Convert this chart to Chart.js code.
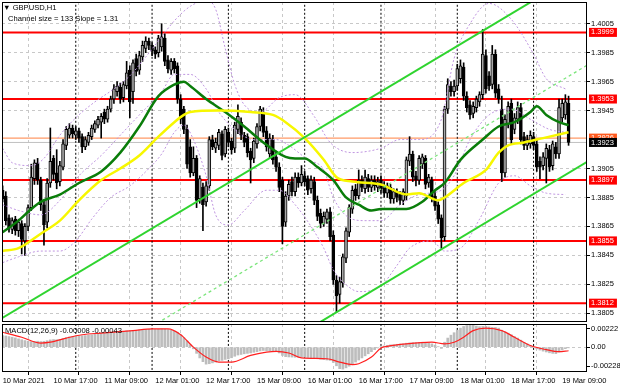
<!DOCTYPE html>
<html><head><meta charset="utf-8">
<script src="https://cdn.jsdelivr.net/npm/chart.js@4.4.1/dist/chart.umd.min.js"></script>
<style>
html,body{margin:0;padding:0;background:#fff;width:620px;height:388px;overflow:hidden;position:relative}
canvas{position:absolute;left:0}
#main{top:0;width:620px;height:323px}
#macd{top:323px;width:620px;height:65px}
.lbl{position:absolute;font-family:'Liberation Sans',Arial,sans-serif;font-size:7.6px;color:#000;white-space:nowrap;line-height:1}
</style></head><body>
<canvas id="main" width="620" height="323"></canvas>
<canvas id="macd" width="620" height="65"></canvas>
<div class="lbl" style="left:3px;top:4px">&#9660; GBPUSD,H1</div>
<div class="lbl" style="left:8px;top:15px">Channel size = 133 Slope = 1.31</div>
<div class="lbl" style="left:5px;top:327px">MACD(12,26,9) -0.00008 -0.00043</div>
<script>
// ---------- DATA ----------
const timeIdx = [0,16,32,48,64,80,96,112,128,144,160,176];
const timeLabels = ["10 Mar 2021","10 Mar 17:00","11 Mar 09:00","12 Mar 01:00","12 Mar 17:00","15 Mar 09:00","16 Mar 01:00","16 Mar 17:00","17 Mar 09:00","18 Mar 01:00","18 Mar 17:00","19 Mar 09:00"];
const daySeps = [23,47,71,95,119,143,167];

const opens = [
1.3890,1.3886,1.3871,1.3863,1.3870,1.3862,1.3867,1.3855,1.3865,1.3878,
1.3898,1.3909,1.3897,1.3880,1.3868,1.3895,1.3912,1.3902,1.3896,1.3906,
1.3921,1.3928,1.3933,1.3928,1.3931,1.3927,1.3920,1.3923,1.3927,1.3932,
1.3935,1.3937,1.3944,1.3939,1.3946,1.3953,1.3958,1.3961,1.3954,1.3962,
1.3973,1.3958,1.3981,1.3973,1.3982,1.3988,1.3993,1.3990,1.3987,1.3985,
1.3989,1.3995,1.3980,1.3973,1.3979,1.3976,1.3953,1.3946,1.3932,1.3920,
1.3902,1.3912,1.3884,1.3892,1.3882,1.3893,1.3925,1.3919,1.3921,1.3929,
1.3915,1.3930,1.3924,1.3919,1.3932,1.3937,1.3928,1.3927,1.3917,1.3912,
1.3922,1.3934,1.3944,1.3931,1.3915,1.3925,1.3913,1.3906,1.3897,1.3868,
1.3886,1.3896,1.3889,1.3899,1.3895,1.3900,1.3898,1.3891,1.3896,1.3883,
1.3874,1.3867,1.3870,1.3875,1.3859,1.3828,1.3818,1.3826,1.3843,1.3861,
1.3877,1.3891,1.3886,1.3897,1.3891,1.3898,1.3892,1.3897,1.3892,1.3897,
1.3893,1.3888,1.3892,1.3884,1.3889,1.3887,1.3883,1.3886,1.3910,1.3915,
1.3900,1.3897,1.3908,1.3912,1.3895,1.3897,1.3886,1.3880,1.3871,1.3858,
1.3946,1.3962,1.3958,1.3962,1.3967,1.3975,1.3955,1.3949,1.3943,1.3947,
1.3951,1.3956,1.3983,1.3969,1.3963,1.3984,1.3960,1.3946,1.3902,1.3936,
1.3950,1.3932,1.3939,1.3947,1.3927,1.3921,1.3922,1.3927,1.3922,1.3910,
1.3907,1.3912,1.3918,1.3907,1.3920,1.3915,1.3940,1.3942,1.3950];
const highs = [
1.3893,1.3889,1.3873,1.3871,1.3872,1.3870,1.3869,1.3867,1.3880,1.3908,
1.3911,1.3912,1.3899,1.3883,1.3898,1.3933,1.3914,1.3918,1.3910,1.3925,
1.3934,1.3936,1.3935,1.3934,1.3933,1.3929,1.3927,1.3930,1.3935,1.3938,
1.3941,1.3943,1.3946,1.3948,1.3955,1.3963,1.3965,1.3964,1.3965,1.3979,
1.3976,1.3980,1.3984,1.3986,1.3993,1.3996,1.3995,1.3992,1.3989,1.3997,
1.4005,1.3998,1.3983,1.3981,1.3981,1.3978,1.3956,1.3948,1.3935,1.3925,
1.3920,1.3914,1.3900,1.3895,1.3896,1.3927,1.3928,1.3926,1.3932,1.3931,
1.3934,1.3933,1.3926,1.3937,1.3949,1.3940,1.3930,1.3929,1.3919,1.3926,
1.3936,1.3948,1.3947,1.3934,1.3929,1.3928,1.3917,1.3909,1.3899,1.3889,
1.3897,1.3899,1.3902,1.3902,1.3907,1.3903,1.3900,1.3900,1.3899,1.3886,
1.3877,1.3875,1.3877,1.3878,1.3862,1.3831,1.3830,1.3846,1.3864,1.3880,
1.3893,1.3894,1.3904,1.3900,1.3904,1.3901,1.3900,1.3900,1.3899,1.3900,
1.3896,1.3895,1.3894,1.3891,1.3891,1.3889,1.3891,1.3913,1.3927,1.3917,
1.3903,1.3914,1.3915,1.3914,1.3901,1.3899,1.3889,1.3882,1.3873,1.3948,
1.3967,1.3965,1.3966,1.3977,1.3980,1.3978,1.3958,1.3952,1.3951,1.3955,
1.3958,1.4001,1.3987,1.3972,1.3990,1.3987,1.3963,1.3955,1.3942,1.3951,
1.3953,1.3943,1.3951,1.3950,1.3930,1.3928,1.3931,1.3930,1.3925,1.3913,
1.3916,1.3922,1.3921,1.3924,1.3923,1.3953,1.3953,1.3956,1.3955];
const lows = [
1.3882,1.3866,1.3861,1.3860,1.3859,1.3858,1.3846,1.3845,1.3862,1.3876,
1.3894,1.3894,1.3876,1.3852,1.3864,1.3892,1.3897,1.3891,1.3893,1.3904,
1.3918,1.3926,1.3926,1.3925,1.3923,1.3916,1.3918,1.3921,1.3925,1.3930,
1.3933,1.3926,1.3936,1.3937,1.3944,1.3950,1.3955,1.3950,1.3951,1.3960,
1.3940,1.3950,1.3969,1.3970,1.3979,1.3985,1.3987,1.3983,1.3981,1.3982,
1.3986,1.3976,1.3971,1.3970,1.3971,1.3950,1.3936,1.3929,1.3905,1.3899,
1.3900,1.3878,1.3881,1.3862,1.3879,1.3890,1.3918,1.3916,1.3918,1.3911,
1.3913,1.3920,1.3915,1.3916,1.3929,1.3925,1.3920,1.3913,1.3895,1.3909,
1.3919,1.3931,1.3927,1.3917,1.3912,1.3908,1.3903,1.3889,1.3853,1.3865,
1.3883,1.3886,1.3886,1.3892,1.3893,1.3893,1.3887,1.3888,1.3880,1.3869,
1.3864,1.3865,1.3867,1.3855,1.3825,1.3806,1.3812,1.3823,1.3840,1.3858,
1.3874,1.3883,1.3884,1.3889,1.3888,1.3889,1.3889,1.3890,1.3889,1.3888,
1.3885,1.3885,1.3881,1.3881,1.3882,1.3880,1.3880,1.3883,1.3907,1.3896,
1.3893,1.3894,1.3905,1.3891,1.3892,1.3882,1.3876,1.3867,1.3850,1.3855,
1.3943,1.3955,1.3955,1.3959,1.3964,1.3952,1.3944,1.3939,1.3940,1.3944,
1.3948,1.3953,1.3957,1.3959,1.3960,1.3954,1.3950,1.3896,1.3899,1.3933,
1.3922,1.3929,1.3936,1.3922,1.3918,1.3918,1.3919,1.3918,1.3903,1.3898,
1.3904,1.3895,1.3903,1.3904,1.3912,1.3912,1.3937,1.3939,1.3921];
const closes = [
1.3884,1.3869,1.3864,1.3869,1.3862,1.3868,1.3856,1.3865,1.3878,1.3899,
1.3909,1.3897,1.3880,1.3866,1.3895,1.3910,1.3901,1.3895,1.3907,1.3922,
1.3932,1.3933,1.3929,1.3931,1.3926,1.3920,1.3925,1.3928,1.3933,1.3936,
1.3939,1.3941,1.3939,1.3946,1.3953,1.3960,1.3962,1.3953,1.3963,1.3971,
1.3951,1.3978,1.3972,1.3983,1.3990,1.3993,1.3990,1.3986,1.3984,1.3995,
1.3996,1.3979,1.3974,1.3979,1.3974,1.3953,1.3939,1.3932,1.3908,1.3902,
1.3912,1.3883,1.3898,1.3880,1.3893,1.3925,1.3920,1.3923,1.3930,1.3914,
1.3932,1.3923,1.3918,1.3935,1.3941,1.3928,1.3923,1.3916,1.3911,1.3924,
1.3934,1.3946,1.3930,1.3920,1.3926,1.3911,1.3906,1.3892,1.3865,1.3886,
1.3894,1.3889,1.3899,1.3895,1.3901,1.3896,1.3890,1.3897,1.3883,1.3872,
1.3867,1.3872,1.3875,1.3858,1.3828,1.3817,1.3827,1.3844,1.3862,1.3878,
1.3890,1.3886,1.3897,1.3892,1.3899,1.3892,1.3897,1.3893,1.3896,1.3891,
1.3888,1.3893,1.3884,1.3889,1.3885,1.3883,1.3889,1.3911,1.3915,1.3899,
1.3897,1.3912,1.3913,1.3894,1.3899,1.3885,1.3879,1.3870,1.3857,1.3946,
1.3963,1.3958,1.3962,1.3974,1.3976,1.3955,1.3947,1.3942,1.3948,1.3953,
1.3956,1.3984,1.3960,1.3962,1.3984,1.3957,1.3953,1.3902,1.3939,1.3948,
1.3925,1.3940,1.3947,1.3925,1.3921,1.3925,1.3928,1.3921,1.3906,1.3906,
1.3913,1.3919,1.3906,1.3922,1.3915,1.3947,1.3950,1.3951,1.3923];

// moving averages
const maGreenIdx = [0,5,9,12,18,24,31,37,43,49,54,57,59,64,70,76,82,89,92,95,99,104,108,112,116,119,127,132,136,139,144,151,156,161,166,168,171,175,178];
const maGreenVal = [1.3861,1.3869,1.3877,1.3882,1.3887,1.3895,1.3903,1.3916,1.3934,1.3955,1.3963,1.3965,1.3962,1.3953,1.3944,1.3934,1.3923,1.3913,1.3912,1.3912,1.3906,1.3897,1.3885,1.3880,1.3876,1.3877,1.3877,1.3882,1.3890,1.3895,1.3911,1.3925,1.3934,1.3937,1.3944,1.3948,1.3942,1.3937,1.3935];
const maYellowIdx = [0,5,12,18,24,31,37,43,49,54,57,59,68,78,85,89,95,101,105,110,119,127,131,137,139,145,152,156,159,164,170,178];
const maYellowVal = [1.3848,1.3850,1.3860,1.3869,1.3883,1.3897,1.3905,1.3914,1.3927,1.3937,1.3942,1.3944,1.3945,1.3944,1.3942,1.3937,1.3926,1.3911,1.3899,1.3896,1.3894,1.3887,1.3888,1.3883,1.3885,1.3895,1.3904,1.3916,1.3921,1.3923,1.3926,1.3930];

// Bollinger bands (purple dotted)
const bbUpIdx = [0,3,9,13,18,23,29,35,40,45,50,54,59,64,67,70,73,76,81,87,92,98,103,110,119,125,131,138,142,147,153,160,167,171,177];
const bbUpVal = [1.3919,1.3909,1.3907,1.3912,1.3928,1.3940,1.3951,1.3960,1.3969,1.3982,1.3996,1.4007,1.4017,1.4021,1.4015,1.3988,1.3963,1.3949,1.3944,1.3954,1.3956,1.3941,1.3923,1.3916,1.3919,1.3925,1.3925,1.3939,1.3981,1.4005,1.4019,1.4008,1.3984,1.3967,1.3960];
const bbMidIdx = [0,5,12,18,24,31,37,43,50,54,59,64,68,73,79,86,90,96,101,104,109,114,119,125,131,138,142,147,153,160,166,172,177];
const bbMidVal = [1.3880,1.3876,1.3873,1.3883,1.3900,1.3914,1.3928,1.3942,1.3958,1.3970,1.3970,1.3960,1.3944,1.3932,1.3925,1.3925,1.3921,1.3911,1.3904,1.3885,1.3871,1.3869,1.3869,1.3880,1.3887,1.3890,1.3900,1.3925,1.3942,1.3946,1.3939,1.3932,1.3930];
const bbLowIdx = [0,5,12,18,23,28,34,40,46,50,54,57,60,64,67,71,76,83,87,92,97,101,104,109,112,119,124,128,135,139,144,150,156,161,166,171,177];
const bbLowVal = [1.3840,1.3844,1.3848,1.3848,1.3855,1.3870,1.3885,1.3893,1.3905,1.3915,1.3930,1.3935,1.3925,1.3900,1.3873,1.3866,1.3876,1.3890,1.3890,1.3880,1.3865,1.3850,1.3835,1.3823,1.3820,1.3824,1.3838,1.3850,1.3855,1.3848,1.3850,1.3870,1.3895,1.3900,1.3893,1.3888,1.3887];

// channel lines
const chanAIdx = [-1,168];   const chanAVal = [1.38006,1.40224];
const chanBIdx = [98,185];   const chanBVal = [1.37965,1.39112];
const chanMIdx = [47,185];   const chanMVal = [1.37960,1.39779];

// horizontal levels
const levels = [1.3999,1.3953,1.3897,1.3855,1.3812];
const askPrice = 1.3926;
const bidPrice = 1.3923;
const priceTicks = [1.4005,1.3985,1.3965,1.3945,1.3905,1.3885,1.3865,1.3845,1.3825,1.3805];

// MACD
const macdHist = [
0.00140,0.00135,0.00128,0.00120,0.00112,0.00100,0.00090,
0.00080,0.00072,0.00068,0.00070,0.00072,0.00068,
0.00070,0.00078,0.00088,0.00092,0.00090,0.00095,0.00105,0.00115,0.00125,0.00130,0.00132,
0.00135,0.00138,0.00140,0.00145,0.00150,0.00155,0.00160,0.00165,0.00168,0.00172,0.00178,0.00185,0.00190,0.00190,0.00192,0.00198,0.00196,0.00200,0.00202,0.00208,0.00212,0.00215,0.00216,0.00215,
0.00214,0.00216,0.00220,0.00218,0.00212,
0.00204,0.00195,0.00180,0.00150,0.00115,0.00075,
0.00030,-0.00020,-0.00075,-0.00130,-0.00175,-0.00205,
-0.00200,-0.00190,-0.00180,-0.00165,
-0.00160,-0.00148,-0.00140,-0.00128,-0.00110,-0.00095,-0.00088,-0.00080,-0.00075,-0.00070,
-0.00062,-0.00055,-0.00045,-0.00040,-0.00042,-0.00045,-0.00048,-0.00055,-0.00070,
-0.00100,-0.00115,-0.00118,-0.00120,-0.00122,-0.00120,-0.00118,-0.00120,-0.00125,-0.00128,-0.00132,-0.00138,-0.00145,
-0.00150,-0.00155,-0.00160,-0.00185,-0.00225,-0.00260,-0.00265,-0.00250,-0.00230,-0.00205,
-0.00180,-0.00155,-0.00130,-0.00105,-0.00080,-0.00055,-0.00030,-0.00010,
0.00005,0.00015,0.00022,0.00028,0.00030,0.00035,0.00038,0.00040,0.00048,0.00052,0.00055,0.00055,0.00058,0.00060,0.00056,0.00050,0.00040,0.00025,0.00005,-0.00015,
0.00060,0.00110,0.00145,0.00175,0.00205,0.00230,0.00250,0.00262,0.00268,0.00265,
0.00255,0.00248,0.00250,0.00252,0.00245,0.00240,0.00238,0.00230,0.00205,
0.00185,0.00170,0.00150,0.00128,0.00110,0.00085,0.00060,0.00040,0.00018,0.00000,
-0.00020,-0.00035,-0.00048,-0.00058,-0.00068,-0.00075,-0.00078,-0.00060,-0.00035,-0.00018,-0.00008];
const sigIdx = [0,6,12,15,20,25,31,41,47,52,56,60,64,68,72,78,83,86,90,94,102,106,110,112,116,119,121,127,135,139,142,145,148,152,157,161,166,171,175,178];
const sigVal = [0.0018,0.0012,0.0005,0.0006,0.0011,0.0015,0.0017,0.0020,0.0022,0.0022,0.0015,0.0000,-0.0012,-0.0018,-0.0018,-0.0010,-0.0006,-0.0005,-0.0007,-0.0013,-0.0014,-0.0018,-0.0021,-0.0020,-0.0012,-0.0001,0.0001,0.0004,0.0006,0.0004,0.0006,0.0012,0.0020,0.0023,0.0020,0.0012,0.0002,-0.0003,-0.00055,-0.00043];
const macdTicks = [0.00222,0,-0.00228];

// ---------- CHART ----------
const FONT = "'Liberation Sans', Arial, sans-serif";
const X_MIN = -0.2, X_MAX = 183.8;
const P_MIN = 1.3799, P_MAX = 1.4020;
const M_MIN = -0.0030, M_MAX = 0.0028;

const pts = (ix, vals) => ix.map((x, i) => ({x, y: vals[i]}));
const hline = (v, color, w, order) => ({type:'line', data:[{x:X_MIN-3,y:v},{x:X_MAX+3,y:v}], borderColor:color, borderWidth:w, pointRadius:0, order});
const vline = (x, lo, hi) => ({type:'line', data:[{x,y:lo},{x,y:hi}], borderColor:'#000', borderWidth:1, borderDash:[2,2], pointRadius:0, order:9});
const curve = (data, color, w, dash, order) => ({type:'line', data, borderColor:color, borderWidth:w, borderDash:dash, pointRadius:0, cubicInterpolationMode:'monotone', fill:false, order});
const noPad = s => { s.paddingTop = 0; s.paddingBottom = 0; s.paddingLeft = 0; s.paddingRight = 0; };

const framePlugin = {
  id: 'frame',
  afterDraw(chart) {
    const {ctx, chartArea: a} = chart;
    ctx.save(); ctx.strokeStyle = '#000'; ctx.lineWidth = 1; ctx.setLineDash([]);
    ctx.strokeRect(Math.round(a.left)+0.5, Math.round(a.top)+0.5, Math.round(a.width)-1, Math.round(a.height)-1);
    ctx.restore();
  }
};

const wicks = {type:'bar', data: highs.map((h,i)=>({x:i, y:[lows[i], h]})), backgroundColor:'#000', barThickness:1, grouped:false, order:6};
const bodies = {type:'bar', data: opens.map((o,i)=>({x:i, y:[Math.min(o,closes[i]), Math.max(o,closes[i]) + (o===closes[i]?0.00003:0)]})),
  backgroundColor: opens.map((o,i)=> closes[i] >= o ? '#a8a8a8' : '#000'), borderColor:'#000', borderWidth:1, borderSkipped:false, barThickness:3, grouped:false, order:5};

const mainDatasets = [
  ...levels.map(v => hline(v, '#ff0000', 2, 12)),
  hline(askPrice, '#ff8040', 1, 12),
  hline(bidPrice, '#c0c0c0', 1, 12),
  ...daySeps.map(s => vline(s, P_MIN-0.01, P_MAX+0.01)),
  wicks, bodies,
  curve(pts(bbUpIdx, bbUpVal), '#bf95e0', 1, [2,2], 4),
  curve(pts(bbMidIdx, bbMidVal), '#bf95e0', 1, [2,2], 4),
  curve(pts(bbLowIdx, bbLowVal), '#bf95e0', 1, [2,2], 4),
  curve(pts(maYellowIdx, maYellowVal), '#f7f700', 2.5, [], 3),
  curve(pts(maGreenIdx, maGreenVal), '#0a7d0a', 2.5, [], 3),
  {type:'line', data: pts(chanAIdx, chanAVal), borderColor:'#2fd42f', borderWidth:2, pointRadius:0, order:2},
  {type:'line', data: pts(chanBIdx, chanBVal), borderColor:'#2fd42f', borderWidth:2, pointRadius:0, order:2},
  {type:'line', data: pts(chanMIdx, chanMVal), borderColor:'#7be57b', borderWidth:1.3, borderDash:[3,3], pointRadius:0, order:2}
];

const isLevel = v => levels.includes(v);
const isSpecial = v => isLevel(v) || v === askPrice || v === bidPrice;
const boxColor = v => isLevel(v) ? '#ff0000' : (v === bidPrice ? '#000' : (v === askPrice ? '#ff5a1e' : 'rgba(0,0,0,0)'));

new Chart(document.getElementById('main'), {
  type: 'bar',
  data: { datasets: mainDatasets },
  plugins: [framePlugin],
  options: {
    responsive:false, animation:false, events:[], devicePixelRatio:1,
    layout:{padding:{left:2, top:2, right:0, bottom:1}},
    plugins:{legend:{display:false}, tooltip:{enabled:false}},
    scales:{
      x:{type:'linear', min:X_MIN, max:X_MAX, offset:false, bounds:'data',
        afterBuildTicks: s => { s.ticks = timeIdx.map(v=>({value:v})); },
        afterFit: s => { s.height = 0; noPad(s); },
        ticks:{display:false},
        grid:{color:'#c8c8c8', drawTicks:false, lineWidth:1},
        border:{display:false, dash:[3,3]}
      },
      y:{position:'right', min:P_MIN, max:P_MAX, bounds:'data',
        afterBuildTicks: s => { s.ticks = [...priceTicks, ...levels, askPrice, bidPrice].map(v=>({value:v})); },
        afterFit: s => { s.width = 33; noPad(s); },
        ticks:{autoSkip:false, padding:1, font:{family:FONT, size:7.5},
          color: c => (c.tick && isSpecial(c.tick.value)) ? '#fff' : '#000',
          showLabelBackdrop: c => !!(c.tick && isSpecial(c.tick.value)),
          backdropColor: c => c.tick ? boxColor(c.tick.value) : 'rgba(0,0,0,0)',
          backdropPadding:{top:0, bottom:0, left:2, right:3},
          callback: v => v.toFixed(4)},
        grid:{color: c => (c.tick && !isSpecial(c.tick.value)) ? '#c8c8c8' : 'rgba(0,0,0,0)',
          tickColor: c => (c.tick && !isSpecial(c.tick.value)) ? '#000' : 'rgba(0,0,0,0)',
          tickLength:3, lineWidth:1},
        border:{display:false, dash:[3,3]}
      }
    }
  }
});

const macdDatasets = [
  ...daySeps.map(s => vline(s, -0.01, 0.01)),
  {type:'bar', data: macdHist.map((v,i)=>({x:i, y:v})), backgroundColor:'#bdbdbd', barThickness:2, grouped:false, order:5},
  curve(pts(sigIdx, sigVal), '#ff2020', 1.2, [], 2)
];

new Chart(document.getElementById('macd'), {
  type: 'bar',
  data: { datasets: macdDatasets },
  plugins: [framePlugin],
  options: {
    responsive:false, animation:false, events:[], devicePixelRatio:1,
    layout:{padding:{left:2, top:1, right:0, bottom:0}},
    plugins:{legend:{display:false}, tooltip:{enabled:false}},
    scales:{
      x:{type:'linear', min:X_MIN, max:X_MAX, offset:false, bounds:'data',
        afterBuildTicks: s => { s.ticks = timeIdx.map(v=>({value:v})); },
        afterFit: s => { s.height = 16; noPad(s); },
        ticks:{autoSkip:false, maxRotation:0, minRotation:0, align:'start', padding:1,
          font:{family:FONT, size:7.5}, color:'#000',
          callback: v => timeLabels[timeIdx.indexOf(v)]},
        grid:{color:'#c8c8c8', tickColor:'#000', tickLength:3, lineWidth:1},
        border:{display:false, dash:[3,3]}
      },
      y:{position:'right', min:M_MIN, max:M_MAX, bounds:'data',
        afterBuildTicks: s => { s.ticks = macdTicks.map(v=>({value:v})); },
        afterFit: s => { s.width = 33; noPad(s); },
        ticks:{autoSkip:false, padding:1, font:{family:FONT, size:7.5}, color:'#000',
          callback: v => v === 0 ? '0.00' : v.toFixed(5)},
        grid:{color: c => (c.tick && c.tick.value === 0) ? '#c8c8c8' : 'rgba(0,0,0,0)', tickColor:'#000', tickLength:3},
        border:{display:false, dash:[3,3]}
      }
    }
  }
});
</script>
</body></html>
